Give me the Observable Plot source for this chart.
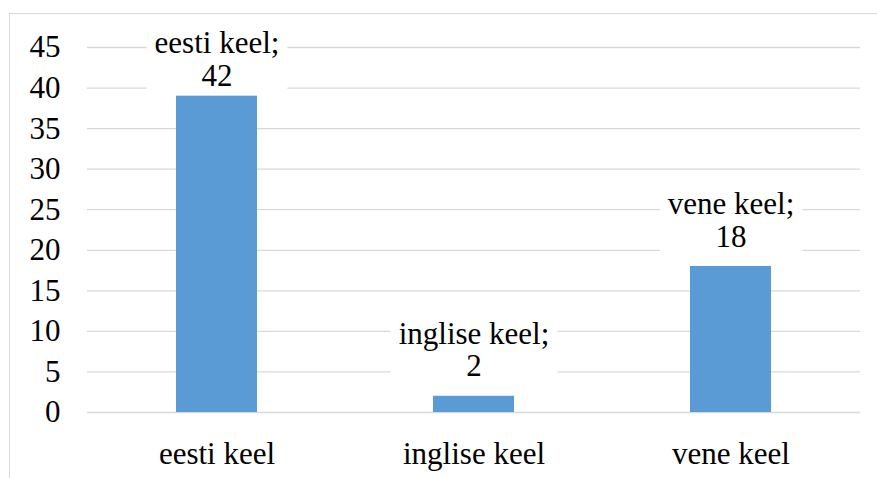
<!DOCTYPE html>
<html><head><meta charset="utf-8">
<script src="https://cdn.jsdelivr.net/npm/d3@7"></script>
<script src="https://cdn.jsdelivr.net/npm/@observablehq/plot@0.6"></script>
<style>
html,body{margin:0;padding:0;background:#fff;overflow:hidden}
#wrap{position:relative;width:877px;height:478px}
#frame{position:absolute;left:9px;top:13px;width:900px;height:500px;border-top:1.5px solid #d9d9d9;border-left:1.5px solid #d9d9d9}
#chart{position:absolute;left:0;top:0}
</style></head>
<body><div id="wrap"><div id="frame"></div><div id="chart"></div></div>
<script>
const categories = ["eesti keel", "inglise keel", "vene keel"];
const values = [39, 2, 18];
const labelValues = [42, 2, 18];
const yTicks = [0, 5, 10, 15, 20, 25, 30, 35, 40, 45];

const data = categories.map((c, i) => ({cat: c, value: values[i], label: labelValues[i]}));
const serif = "Liberation Serif, DejaVu Serif, serif";

const chart = Plot.plot({
  width: 877,
  height: 478,
  marginLeft: 87,
  marginRight: 17,
  marginTop: 47,
  marginBottom: 66,
  style: {fontFamily: serif, fontSize: "31px", color: "#000", background: "transparent"},
  x: {domain: categories, paddingInner: 0.686, paddingOuter: 0.343, label: null},
  y: {domain: [0, 45], label: null},
  marks: [
    Plot.gridY(yTicks, {stroke: "#d9d9d9", strokeOpacity: 1, strokeWidth: 1.3}),
    Plot.barY(data, {x: "cat", y: "value", fill: "#5b9bd5"}),
    Plot.axisY(yTicks, {tickSize: 0, tickPadding: 27, fontSize: 31, fontFamily: serif, label: null}),
    Plot.axisX({tickSize: 0, tickPadding: 29, fontSize: 31, fontFamily: serif, label: null}),
    Plot.text(data, {
      x: "cat", y: "value",
      text: d => `${d.cat};\n${d.label}`,
      lineAnchor: "bottom", lineHeight: 1.05, dy: -20,
      fontSize: 31, fontFamily: serif, fill: "#000"
    })
  ]
});
chart.querySelectorAll("text").forEach(t => t.style.fontFamily = serif);
document.getElementById("chart").appendChild(chart);

// white label boxes behind data labels (Excel style), keep labels inside the chart area
const svgRect = chart.getBoundingClientRect();
const g = chart.querySelector('g[aria-label="text"]');
const minTop = 25;
g.querySelectorAll("text").forEach(t => {
  let r = t.getBoundingClientRect();
  const top = r.top - svgRect.top;
  if (top < minTop) {
    t.setAttribute("transform", (t.getAttribute("transform") || "") + ` translate(0,${minTop - top})`);
    r = t.getBoundingClientRect();
  }
  const pad = 8;
  const rect = document.createElementNS("http://www.w3.org/2000/svg", "rect");
  rect.setAttribute("x", r.left - svgRect.left - pad);
  rect.setAttribute("y", r.top - svgRect.top - 2);
  rect.setAttribute("width", r.width + 2 * pad);
  rect.setAttribute("height", r.height + 4);
  rect.setAttribute("fill", "#fff");
  chart.insertBefore(rect, g);
});
</script>
</body></html>
